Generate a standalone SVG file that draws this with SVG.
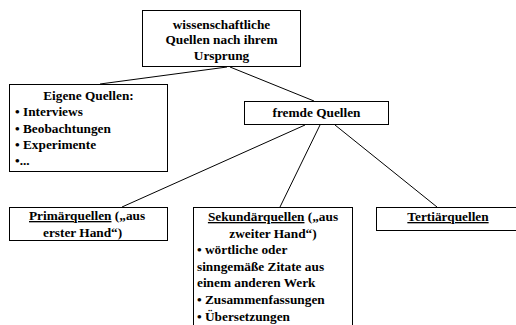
<svg xmlns="http://www.w3.org/2000/svg" width="516" height="325" viewBox="0 0 516 325">
<style>
.box{fill:#fff;stroke:#000;stroke-width:1}
text{font-family:'Liberation Serif','Times New Roman',Times,'DejaVu Serif',serif;font-weight:700;font-size:13.3px;fill:#000}
.c{text-anchor:middle}
.con{stroke:#000;stroke-width:1;fill:none}
</style>
<rect width="516" height="325" fill="#fff"/>
<g id="connectors">
<line class="con" x1="227" y1="67" x2="100" y2="84"/>
<line class="con" x1="230" y1="67" x2="314" y2="101"/>
<line class="con" x1="305" y1="125" x2="122" y2="207"/>
<line class="con" x1="320" y1="125" x2="280" y2="207"/>
<line class="con" x1="335" y1="125" x2="437" y2="207"/>
</g>
<g id="root">
<rect class="box" x="142.5" y="10.5" width="158" height="56"/>
<text class="c" x="221.5" y="28.5">wissenschaftliche</text>
<text class="c" x="221.5" y="44.3">Quellen nach ihrem</text>
<text class="c" x="221.5" y="60">Ursprung</text>
</g>
<g id="eigene">
<rect class="box" x="9.5" y="84.5" width="158" height="87"/>
<text class="c" x="88.5" y="100">Eigene Quellen:</text>
<text x="15" y="116.3">• Interviews</text>
<text x="15" y="132.6">• Beobachtungen</text>
<text x="15" y="148.9">• Experimente</text>
<text x="15" y="165.2">•...</text>
</g>
<g id="fremde">
<rect class="box" x="244.5" y="101.5" width="144" height="23"/>
<text class="c" x="316.5" y="117.3">fremde Quellen</text>
</g>
<g id="primaer">
<rect class="box" x="9.5" y="207.5" width="158" height="33"/>
<text x="29" y="220"><tspan text-decoration="underline">Primärquellen</tspan> („aus</text>
<text x="43" y="236.5">erster Hand“)</text>
</g>
<g id="sekundaer">
<rect class="box" x="193.5" y="207.5" width="159" height="130"/>
<text class="c" x="273" y="221"><tspan text-decoration="underline">Sekundärquellen</tspan> („aus</text>
<text class="c" x="273" y="237.6">zweiter Hand“)</text>
<text x="197" y="254.2">• wörtliche oder</text>
<text x="197" y="270.8">sinngemäße Zitate aus</text>
<text x="197" y="287.4">einem anderen Werk</text>
<text x="197" y="304">• Zusammenfassungen</text>
<text x="197" y="320.6">• Übersetzungen</text>
</g>
<g id="tertiaer">
<rect class="box" x="376.5" y="207.5" width="145" height="23"/>
<text class="c" x="448" y="221"><tspan text-decoration="underline">Tertiärquellen</tspan></text>
</g>
</svg>
